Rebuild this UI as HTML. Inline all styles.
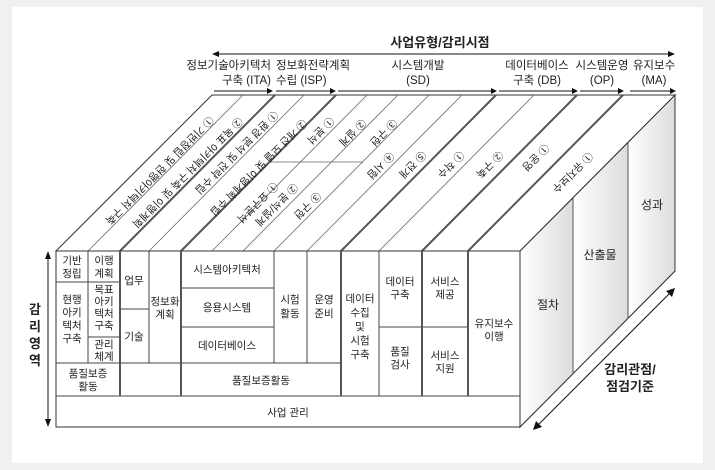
<!DOCTYPE html>
<html><head><meta charset="utf-8"><style>
html,body{margin:0;padding:0;background:#f0f0f0;}
svg{display:block;}
text{font-family:"Liberation Sans","Noto Sans CJK KR",sans-serif;fill:#222;}
</style></head><body>
<svg width="715" height="470" viewBox="0 0 715 470" xmlns="http://www.w3.org/2000/svg">
<defs>
<linearGradient id="rg" x1="0" y1="0" x2="1" y2="0">
<stop offset="0" stop-color="#ffffff"/><stop offset="1" stop-color="#dcdcdc"/></linearGradient>
<marker id="ah" markerWidth="6" markerHeight="6" refX="5" refY="3" orient="auto" markerUnits="userSpaceOnUse"><path d="M0,0 L6,3 L0,6 z" fill="#111"/></marker>
</defs>
<rect x="12" y="7" width="691" height="456" fill="#fff"/>

<!-- right face -->
<polygon points="520,251 675,95 675,271 520,427" fill="#eee" stroke="#333" stroke-width="1"/>
<polygon points="520,251 573,198 573,374 520,427" fill="url(#rg)"/>
<polygon points="573,198 628,143 628,319 573,374" fill="url(#rg)"/>
<polygon points="628,143 675,95 675,271 628,319" fill="url(#rg)"/>
<polygon points="520,251 675,95 675,271 520,427" fill="none" stroke="#333" stroke-width="1"/>
<line x1="573" y1="198" x2="573" y2="374" stroke="#555"/>
<line x1="628" y1="143" x2="628" y2="319" stroke="#555"/>
<text x="548" y="309" font-size="12" text-anchor="middle">절차</text>
<text x="600" y="259" font-size="12" text-anchor="middle">산출물</text>
<text x="652" y="209" font-size="12" text-anchor="middle">성과</text>

<!-- top face -->
<polygon points="56,251 520,251 675,95 212,95" fill="#fff" stroke="#333" stroke-width="1"/>
<g stroke="#666" stroke-width="0.8">
<line x1="88" y1="251" x2="243" y2="95"/>
<line x1="149" y1="251" x2="304" y2="95"/>
<line x1="212" y1="251" x2="367" y2="95"/>
<line x1="243" y1="251" x2="398" y2="95"/>
<line x1="274" y1="251" x2="429" y2="95"/>
<line x1="307" y1="251" x2="462" y2="95"/>
<line x1="379" y1="251" x2="534" y2="95"/>
<line x1="269" y1="162" x2="363" y2="162"/>
</g>
<g stroke="#555" stroke-width="2">
<line x1="120" y1="251" x2="275" y2="95"/>
<line x1="181" y1="251" x2="336" y2="95"/>
<line x1="341" y1="251" x2="496" y2="95"/>
<line x1="422" y1="251" x2="577" y2="95"/>
<line x1="468" y1="251" x2="623" y2="95"/>
</g>
<g font-size="10.5" text-anchor="middle">
<text transform="translate(157,168) rotate(135)">① 기반정립 및 현행아키텍처 구축</text>
<text transform="translate(185,170) rotate(135)">② 목표 아키텍처 구축 및 이행계획</text>
<text transform="translate(234,150) rotate(135)">① 환경 분석 및 전략 수립</text>
<text transform="translate(256,165) rotate(135)">② 개선 모델 및 이행계획 수립</text>
<text transform="translate(318,128) rotate(135)">① 분석</text>
<text transform="translate(350,130) rotate(135)">② 설계</text>
<text transform="translate(381,130) rotate(135)">③ 구현</text>
<text transform="translate(378,163) rotate(135)">④ 시험</text>
<text transform="translate(410,162) rotate(135)">⑤ 전개</text>
<text transform="translate(255,200) rotate(135)">① 요구분석</text>
<text transform="translate(274,202) rotate(135)">② 분석/설계</text>
<text transform="translate(305,203) rotate(135)">③ 구현</text>
<text transform="translate(448,162) rotate(135)">① 착수</text>
<text transform="translate(487,162) rotate(135)">② 구축</text>
<text transform="translate(533,155) rotate(135)">① 운영</text>
<text transform="translate(570,170) rotate(135)">① 유지보수</text>
</g>

<!-- front face -->
<rect x="56" y="251" width="464" height="176" fill="#fff" stroke="#333" stroke-width="1"/>
<g stroke="#444" stroke-width="1">
<line x1="56" y1="396" x2="520" y2="396"/>
<line x1="56" y1="363" x2="341" y2="363"/>
<line x1="88" y1="251" x2="88" y2="363"/>
<line x1="56" y1="282" x2="120" y2="282"/>
<line x1="88" y1="337" x2="120" y2="337"/>
<line x1="120" y1="309" x2="149" y2="309"/>
<line x1="149" y1="251" x2="149" y2="363"/>
<line x1="181" y1="288" x2="274" y2="288"/>
<line x1="181" y1="327" x2="274" y2="327"/>
<line x1="274" y1="251" x2="274" y2="363"/>
<line x1="307" y1="251" x2="307" y2="363"/>
<line x1="379" y1="251" x2="379" y2="396"/>
<line x1="379" y1="327" x2="468" y2="327"/>
</g>
<g stroke="#555" stroke-width="2">
<line x1="120" y1="251" x2="120" y2="396"/>
<line x1="181" y1="251" x2="181" y2="396"/>
<line x1="341" y1="251" x2="341" y2="396"/>
<line x1="422" y1="251" x2="422" y2="396"/>
<line x1="468" y1="251" x2="468" y2="396"/>
</g>
<g font-size="10.5" text-anchor="middle">
<text x="72" y="264">기반</text><text x="72" y="277">정립</text>
<text x="104" y="264">이행</text><text x="104" y="277">계획</text>
<text x="72" y="303">현행</text><text x="72" y="316">아키</text><text x="72" y="329">텍처</text><text x="72" y="342">구축</text>
<text x="104" y="293">목표</text><text x="104" y="305">아키</text><text x="104" y="317">텍처</text><text x="104" y="329">구축</text>
<text x="104" y="348">관리</text><text x="104" y="360">체계</text>
<text x="134" y="284">업무</text>
<text x="134" y="340">기술</text>
<text x="165" y="305">정보화</text><text x="165" y="318">계획</text>
<text x="227" y="273">시스템아키텍처</text>
<text x="227" y="311">응용시스템</text>
<text x="227" y="349">데이터베이스</text>
<text x="290" y="303">시험</text><text x="290" y="317">활동</text>
<text x="324" y="303">운영</text><text x="324" y="317">준비</text>
<text x="360" y="302">데이터</text><text x="360" y="316">수집</text><text x="360" y="330">및</text><text x="360" y="344">시험</text><text x="360" y="358">구축</text>
<text x="400" y="285">데이터</text><text x="400" y="298">구축</text>
<text x="400" y="355">품질</text><text x="400" y="368">검사</text>
<text x="445" y="285">서비스</text><text x="445" y="298">제공</text>
<text x="445" y="359">서비스</text><text x="445" y="372">지원</text>
<text x="494" y="327">유지보수</text><text x="494" y="340">이행</text>
<text x="88" y="377">품질보증</text><text x="88" y="390">활동</text>
<text x="261" y="384">품질보증활동</text>
<text x="288" y="416">사업 관리</text>
</g>

<!-- left arrow -->
<line x1="48" y1="258" x2="48" y2="420" stroke="#111" stroke-width="1"/>
<path d="M45,259 L48,251 L51,259 z" fill="#111"/>
<path d="M45,419 L48,427 L51,419 z" fill="#111"/>
<g font-size="13" font-weight="bold" text-anchor="middle">
<text x="35" y="314">감</text><text x="35" y="331">리</text><text x="35" y="348">영</text><text x="35" y="365">역</text>
</g>

<!-- diagonal arrow -->
<line x1="537" y1="426" x2="671" y2="292" stroke="#111" stroke-width="1"/>
<path d="M533,430 L536,421 L542,427 z" fill="#111"/>
<path d="M675,288 L672,297 L666,291 z" fill="#111"/>
<text x="630" y="374" font-size="13" font-weight="bold" text-anchor="middle">감리관점/</text>
<text x="630" y="391" font-size="13" font-weight="bold" text-anchor="middle">점검기준</text>

<!-- top header -->
<text x="440" y="47" font-size="13" font-weight="bold" text-anchor="middle">사업유형/감리시점</text>
<line x1="216" y1="54" x2="671" y2="54" stroke="#111" stroke-width="1"/>
<path d="M212,54 L219,51 L219,57 z" fill="#111"/>
<path d="M675,54 L668,51 L668,57 z" fill="#111"/>
<g font-size="11.5">
<text x="271" y="69" text-anchor="end">정보기술아키텍처</text><text x="271" y="84" text-anchor="end">구축 (ITA)</text>
<text x="276" y="69">정보화전략계획</text><text x="276" y="84">수립 (ISP)</text>
</g>
<g font-size="11.5" text-anchor="middle">
<text x="418" y="69">시스템개발</text><text x="418" y="84">(SD)</text>
<text x="537" y="69">데이터베이스</text><text x="537" y="84">구축 (DB)</text>
<text x="602" y="69">시스템운영</text><text x="602" y="84">(OP)</text>
<text x="654" y="69">유지보수</text><text x="654" y="84">(MA)</text>
</g>
<g stroke="#111" stroke-width="1" marker-end="url(#ah)">
<line x1="214" y1="91" x2="272" y2="91"/>
<line x1="276" y1="91" x2="335" y2="91"/>
<line x1="338" y1="91" x2="496" y2="91"/>
<line x1="499" y1="91" x2="577" y2="91"/>
<line x1="580" y1="91" x2="623" y2="91"/>
<line x1="630" y1="91" x2="675" y2="91"/>
</g>
</svg>
</body></html>
